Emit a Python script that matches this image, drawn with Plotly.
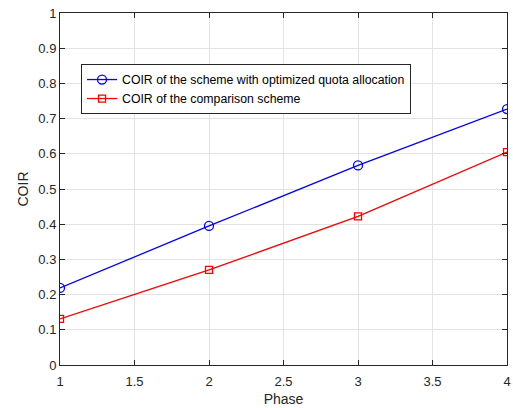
import plotly.graph_objects as go

phase = [1, 2, 3, 4]
coir_opt = [0.219, 0.395, 0.567, 0.727]
coir_cmp = [0.131, 0.270, 0.422, 0.605]
name_opt = "COIR of the scheme with optimized quota allocation"
name_cmp = "COIR of the comparison scheme"

FONT = "Liberation Sans, Arial, sans-serif"

fig = go.Figure()
fig.add_trace(go.Scatter(x=phase, y=coir_opt, mode="lines+markers", name=name_opt,
                         line=dict(color="#0000ff", width=1.3),
                         marker=dict(symbol="circle-open", size=9, color="#0000ff", line=dict(width=1.3))))
fig.add_trace(go.Scatter(x=phase, y=coir_cmp, mode="lines+markers", name=name_cmp,
                         line=dict(color="#ff0000", width=1.3),
                         marker=dict(symbol="square-open", size=7, color="#ff0000", line=dict(width=1.3))))

axis_common = dict(showline=True, linecolor="#262626", linewidth=1, mirror="ticks",
                   ticks="inside", ticklen=5, tickcolor="#262626", automargin=False,
                   showgrid=True, gridcolor="#e3e3e3", gridwidth=1, zeroline=False,
                   tickfont=dict(family=FONT, size=13, color="#262626"))

fig.update_xaxes(range=[1, 4], tickvals=[1, 1.5, 2, 2.5, 3, 3.5, 4],
                 ticktext=["1", "1.5", "2", "2.5", "3", "3.5", "4"],
                 ticklabelstandoff=4,
                 title=dict(text="Phase", standoff=6,
                            font=dict(family=FONT, size=14, color="#262626")),
                 **axis_common)
fig.update_yaxes(range=[0, 1], tickvals=[i / 10 for i in range(11)],
                 ticktext=["0", "0.1", "0.2", "0.3", "0.4", "0.5", "0.6", "0.7", "0.8", "0.9", "1"],
                 title=dict(text="COIR", standoff=6,
                            font=dict(family=FONT, size=14, color="#262626")),
                 **axis_common)

fig.update_layout(width=513, height=408, margin=dict(l=60, r=6, t=13, b=43),
                  paper_bgcolor="white", plot_bgcolor="white",
                  font=dict(family=FONT, color="#262626"),
                  legend=dict(x=0.047, y=0.855, xanchor="left", yanchor="top",
                              bgcolor="white", bordercolor="#262626", borderwidth=1,
                              font=dict(family=FONT, size=12.3, color="#000000"), itemwidth=30,
                              tracegroupgap=0),
                  showlegend=True)

fig.write_html("out.html")
